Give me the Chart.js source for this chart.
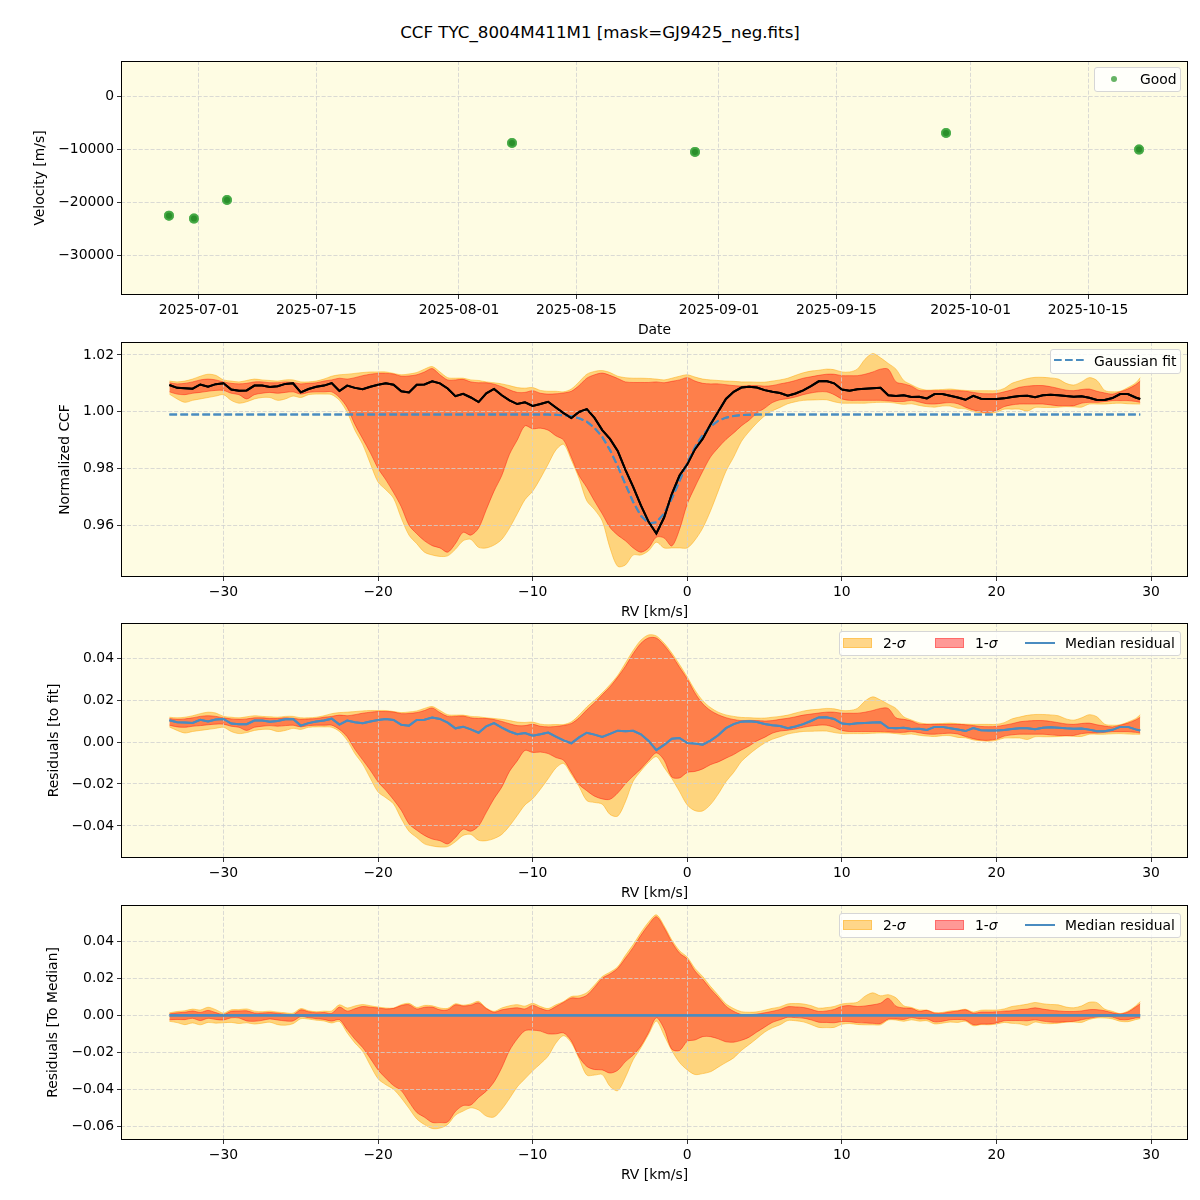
<!DOCTYPE html>
<html>
<head>
<meta charset="utf-8">
<script src="https://cdn.jsdelivr.net/npm/chart.js@4.4.1/dist/chart.umd.min.js"></script>
<style>
body { margin: 0; background: #fff; font-family: "DejaVu Sans", sans-serif; }
#wrap { position: relative; width: 1200px; height: 1200px; overflow: hidden; }
canvas { position: absolute; left: 0; }
.title { position: absolute; left: 0; top: 22px; width: 1200px; text-align: center; font-size: 16.7px; line-height: 20px; color: #000; }
.legend { position: absolute; box-sizing: border-box; background: rgba(255,255,255,0.8); border: 1px solid #d6d6d6; border-radius: 3px; font-size: 13.9px; color: #000; }
.legend > * { position: absolute; }
.legend .txt { top: 0; line-height: 23px; white-space: nowrap; }
.dot { width: 6px; height: 6px; border-radius: 50%; background: rgba(0,128,0,0.6); }
.p2 { width: 29px; height: 10px; top: 6px; box-sizing: border-box; background: rgba(255,165,0,0.45); border: 1px solid rgba(255,165,0,0.35); }
.p1 { width: 29px; height: 10px; top: 6px; box-sizing: border-box; background: rgba(255,0,0,0.4); border: 1px solid rgba(255,0,0,0.3); }
.ln { width: 30px; height: 2px; top: 10px; background: #4a8cc0; }
</style>
</head>
<body>
<div id="wrap">
  <div class="title">CCF TYC_8004M411M1 [mask=GJ9425_neg.fits]</div>
  <canvas id="c1" width="1200" height="285" style="top:55px"></canvas>
  <canvas id="c2" width="1200" height="285" style="top:337px"></canvas>
  <canvas id="c3" width="1200" height="285" style="top:618px"></canvas>
  <canvas id="c4" width="1200" height="285" style="top:900px"></canvas>

  <div class="legend" style="left:1094px;top:67px;width:87px;height:25px">
    <span class="dot" style="left:16px;top:8px"></span>
    <span class="txt" style="left:45px">Good</span>
  </div>
  <div class="legend" style="left:1050px;top:349px;width:131px;height:25px">
    <svg style="left:3px;top:8px" width="30" height="4"><line x1="0" y1="2" x2="30" y2="2" stroke="#4a8cc0" stroke-width="2" stroke-dasharray="7.7 3.3"/></svg>
    <span class="txt" style="left:43px">Gaussian fit</span>
  </div>
  <div class="legend" style="left:839px;top:631px;width:342px;height:25px">
    <span class="p2" style="left:3px"></span><span class="txt" style="left:43px">2-<i>σ</i></span>
    <span class="p1" style="left:95px"></span><span class="txt" style="left:135px">1-<i>σ</i></span>
    <span class="ln" style="left:185px"></span><span class="txt" style="left:225px">Median residual</span>
  </div>
  <div class="legend" style="left:839px;top:913px;width:342px;height:25px">
    <span class="p2" style="left:3px"></span><span class="txt" style="left:43px">2-<i>σ</i></span>
    <span class="p1" style="left:95px"></span><span class="txt" style="left:135px">1-<i>σ</i></span>
    <span class="ln" style="left:185px"></span><span class="txt" style="left:225px">Median residual</span>
  </div>
</div>
<script>
// --- observations (top panel) ---
const obsDates = ['2025-06-27T10:05', '2025-06-30T09:36', '2025-07-04T08:10', '2025-08-07T07:40',
                  '2025-08-29T03:20', '2025-09-28T01:40', '2025-10-21T02:00'];
const obsVel = [-22500, -23060, -19560, -8810, -10500, -6940, -10070];
const dateTicks = ['2025-07-01', '2025-07-15', '2025-08-01', '2025-08-15', '2025-09-01', '2025-09-15', '2025-10-01', '2025-10-15'];
const velTicks = [0, -10000, -20000, -30000];

// --- CCF profile (km/s grid) ---
const rv = [
  -33.5, -33, -32.5, -32, -31.5, -31, -30.5, -30, -29.5, -29,
  -28.5, -28, -27.5, -27, -26.5, -26, -25.5, -25, -24.5, -24,
  -23.5, -23, -22.5, -22, -21.5, -21, -20.5, -20, -19.5, -19,
  -18.5, -18, -17.5, -17, -16.5, -16, -15.5, -15, -14.5, -14,
  -13.5, -13, -12.5, -12, -11.5, -11, -10.5, -10, -9.5, -9,
  -8.5, -8, -7.5, -7, -6.5, -6, -5.5, -5, -4.5, -4,
  -3.5, -3, -2.5, -2, -1.5, -1, -0.5, 0, 0.5, 1,
  1.5, 2, 2.5, 3, 3.5, 4, 4.5, 5, 5.5, 6,
  6.5, 7, 7.5, 8, 8.5, 9, 9.5, 10, 10.5, 11,
  11.5, 12, 12.5, 13, 13.5, 14, 14.5, 15, 15.5, 16,
  16.5, 17, 17.5, 18, 18.5, 19, 19.5, 20, 20.5, 21,
  21.5, 22, 22.5, 23, 23.5, 24, 24.5, 25, 25.5, 26,
  26.5, 27, 27.5, 28, 28.5, 29, 29.3
];
const ccfMedian = [
  1.0094, 1.0084, 1.0083, 1.0081, 1.0096, 1.0088, 1.0097, 1.0100, 1.0078, 1.0074,
  1.0075, 1.0092, 1.0092, 1.0087, 1.0090, 1.0098, 1.0100, 1.0068, 1.0080, 1.0088,
  1.0092, 1.0101, 1.0073, 1.0092, 1.0084, 1.0079, 1.0088, 1.0095, 1.0100, 1.0095,
  1.0072, 1.0068, 1.0095, 1.0096, 1.0107, 1.0100, 1.0082, 1.0055, 1.0063, 1.0050,
  1.0034, 1.0065, 1.0080, 1.0058, 1.0040, 1.0027, 1.0033, 1.0020, 1.0027, 1.0035,
  1.0015, 0.9995, 0.9978, 0.9999, 1.0009, 0.9978, 0.9935, 0.9904, 0.9862, 0.9795,
  0.9735, 0.9670, 0.9612, 0.9571, 0.9627, 0.9710, 0.9775, 0.9815, 0.9868, 0.9905,
  0.9955, 1.0000, 1.0045, 1.0070, 1.0085, 1.0088, 1.0085, 1.0076, 1.0070, 1.0066,
  1.0056, 1.0064, 1.0075, 1.0090, 1.0107, 1.0108, 1.0100, 1.0078, 1.0074, 1.0079,
  1.0081, 1.0083, 1.0084, 1.0058, 1.0055, 1.0058, 1.0052, 1.0053, 1.0047, 1.0062,
  1.0062, 1.0056, 1.0050, 1.0042, 1.0056, 1.0046, 1.0045, 1.0045, 1.0047, 1.0052,
  1.0055, 1.0056, 1.0051, 1.0058, 1.0060, 1.0058, 1.0055, 1.0053, 1.0054, 1.0049,
  1.0041, 1.0041, 1.0048, 1.0062, 1.0062, 1.0050, 1.0045
];
const ccfFit = [
  0.9990, 0.9990, 0.9990, 0.9990, 0.9990, 0.9990, 0.9990, 0.9990, 0.9990, 0.9990,
  0.9990, 0.9990, 0.9990, 0.9990, 0.9990, 0.9990, 0.9990, 0.9990, 0.9990, 0.9990,
  0.9990, 0.9990, 0.9990, 0.9990, 0.9990, 0.9990, 0.9990, 0.9990, 0.9990, 0.9990,
  0.9990, 0.9990, 0.9990, 0.9990, 0.9990, 0.9990, 0.9990, 0.9990, 0.9990, 0.9990,
  0.9990, 0.9990, 0.9990, 0.9990, 0.9990, 0.9990, 0.9990, 0.9990, 0.9990, 0.9990,
  0.9989, 0.9987, 0.9984, 0.9977, 0.9965, 0.9943, 0.9911, 0.9865, 0.9808, 0.9744,
  0.9682, 0.9633, 0.9607, 0.9610, 0.9641, 0.9694, 0.9756, 0.9820, 0.9875, 0.9918,
  0.9948, 0.9968, 0.9979, 0.9985, 0.9988, 0.9989, 0.9990, 0.9990, 0.9990, 0.9990,
  0.9990, 0.9990, 0.9990, 0.9990, 0.9990, 0.9990, 0.9990, 0.9990, 0.9990, 0.9990,
  0.9990, 0.9990, 0.9990, 0.9990, 0.9990, 0.9990, 0.9990, 0.9990, 0.9990, 0.9990,
  0.9990, 0.9990, 0.9990, 0.9990, 0.9990, 0.9990, 0.9990, 0.9990, 0.9990, 0.9990,
  0.9990, 0.9990, 0.9990, 0.9990, 0.9990, 0.9990, 0.9990, 0.9990, 0.9990, 0.9990,
  0.9990, 0.9990, 0.9990, 0.9990, 0.9990, 0.9990, 0.9990
];
const sig1Lo = [
  1.0070, 1.0062, 1.0060, 1.0065, 1.0068, 1.0072, 1.0075, 1.0075, 1.0065, 1.0060,
  1.0045, 1.0060, 1.0065, 1.0068, 1.0065, 1.0068, 1.0070, 1.0062, 1.0068, 1.0070,
  1.0070, 1.0070, 1.0050, 1.0015, 0.9955, 0.9905, 0.9855, 0.9800, 0.9760, 0.9715,
  0.9665, 0.9600, 0.9570, 0.9545, 0.9528, 0.9520, 0.9505, 0.9535, 0.9575, 0.9565,
  0.9590, 0.9655, 0.9720, 0.9775, 0.9850, 0.9900, 0.9950, 0.9940, 0.9942, 0.9935,
  0.9915, 0.9900, 0.9840, 0.9775, 0.9733, 0.9685, 0.9640, 0.9592, 0.9565, 0.9545,
  0.9520, 0.9505, 0.9520, 0.9558, 0.9555, 0.9527, 0.9585, 0.9675, 0.9735, 0.9790,
  0.9840, 0.9873, 0.9902, 0.9925, 0.9950, 0.9970, 0.9995, 1.0012, 1.0032, 1.0042,
  1.0046, 1.0052, 1.0060, 1.0066, 1.0070, 1.0070, 1.0060, 1.0045, 1.0040, 1.0040,
  1.0040, 1.0040, 1.0040, 1.0038, 1.0036, 1.0036, 1.0040, 1.0034, 1.0028, 1.0027,
  1.0030, 1.0032, 1.0028, 1.0016, 1.0006, 0.9999, 0.9998, 1.0004, 1.0018, 1.0024,
  1.0027, 1.0027, 1.0027, 1.0027, 1.0024, 1.0021, 1.0021, 1.0021, 1.0030, 1.0033,
  1.0033, 1.0036, 1.0039, 1.0039, 1.0039, 1.0036, 1.0033
];
const sig1Hi = [
  1.0102, 1.0098, 1.0100, 1.0105, 1.0112, 1.0115, 1.0112, 1.0105, 1.0100, 1.0098,
  1.0100, 1.0105, 1.0105, 1.0102, 1.0102, 1.0105, 1.0103, 1.0098, 1.0100, 1.0102,
  1.0108, 1.0112, 1.0118, 1.0115, 1.0120, 1.0127, 1.0132, 1.0135, 1.0135, 1.0133,
  1.0125, 1.0126, 1.0130, 1.0140, 1.0152, 1.0130, 1.0112, 1.0112, 1.0114, 1.0105,
  1.0102, 1.0102, 1.0097, 1.0088, 1.0077, 1.0068, 1.0068, 1.0074, 1.0065, 1.0062,
  1.0063, 1.0066, 1.0072, 1.0092, 1.0118, 1.0130, 1.0136, 1.0128, 1.0117, 1.0105,
  1.0103, 1.0103, 1.0103, 1.0105, 1.0102, 1.0107, 1.0112, 1.0120, 1.0108, 1.0100,
  1.0098, 1.0098, 1.0095, 1.0092, 1.0090, 1.0092, 1.0092, 1.0090, 1.0092, 1.0098,
  1.0103, 1.0110, 1.0118, 1.0123, 1.0128, 1.0132, 1.0132, 1.0127, 1.0127, 1.0127,
  1.0132, 1.0140, 1.0150, 1.0150, 1.0105, 1.0098, 1.0090, 1.0075, 1.0074, 1.0074,
  1.0074, 1.0074, 1.0074, 1.0072, 1.0068, 1.0064, 1.0063, 1.0064, 1.0070, 1.0077,
  1.0086, 1.0090, 1.0092, 1.0092, 1.0088, 1.0082, 1.0076, 1.0074, 1.0078, 1.0080,
  1.0072, 1.0066, 1.0062, 1.0070, 1.0080, 1.0095, 1.0108
];
const sig2Lo = [
  1.0062, 1.0045, 1.0033, 1.0040, 1.0045, 1.0050, 1.0055, 1.0060, 1.0040, 1.0030,
  1.0035, 1.0045, 1.0050, 1.0050, 1.0040, 1.0045, 1.0055, 1.0050, 1.0060, 1.0062,
  1.0062, 1.0060, 1.0040, 0.9998, 0.9935, 0.9885, 0.9817, 0.9752, 0.9725, 0.9695,
  0.9625, 0.9565, 0.9535, 0.9505, 0.9495, 0.9490, 0.9492, 0.9515, 0.9545, 0.9550,
  0.9522, 0.9520, 0.9530, 0.9550, 0.9590, 0.9640, 0.9690, 0.9720, 0.9765, 0.9815,
  0.9865, 0.9885, 0.9830, 0.9765, 0.9686, 0.9655, 0.9615, 0.9520, 0.9455, 0.9460,
  0.9495, 0.9495, 0.9510, 0.9540, 0.9520, 0.9520, 0.9520, 0.9520, 0.9548, 0.9590,
  0.9650, 0.9720, 0.9790, 0.9840, 0.9895, 0.9930, 0.9960, 0.9985, 1.0003, 1.0015,
  1.0028, 1.0035, 1.0040, 1.0041, 1.0042, 1.0042, 1.0035, 1.0030, 1.0030, 1.0030,
  1.0030, 1.0032, 1.0033, 1.0033, 1.0030, 1.0026, 1.0028, 1.0022, 1.0018, 1.0016,
  1.0020, 1.0020, 1.0012, 1.0010, 1.0000, 0.9996, 0.9994, 0.9998, 1.0009, 1.0009,
  1.0009, 1.0002, 1.0015, 1.0015, 1.0015, 1.0016, 1.0018, 1.0017, 1.0016, 1.0027,
  1.0027, 1.0027, 1.0029, 1.0030, 1.0028, 1.0027, 1.0027
];
const sig2Hi = [
  1.0108, 1.0105, 1.0108, 1.0115, 1.0125, 1.0132, 1.0128, 1.0112, 1.0108, 1.0105,
  1.0110, 1.0115, 1.0112, 1.0110, 1.0108, 1.0112, 1.0112, 1.0105, 1.0105, 1.0108,
  1.0115, 1.0125, 1.0130, 1.0132, 1.0135, 1.0138, 1.0140, 1.0140, 1.0140, 1.0135,
  1.0130, 1.0133, 1.0138, 1.0150, 1.0159, 1.0140, 1.0120, 1.0118, 1.0118, 1.0112,
  1.0110, 1.0105, 1.0102, 1.0098, 1.0092, 1.0085, 1.0083, 1.0085, 1.0075, 1.0072,
  1.0072, 1.0070, 1.0080, 1.0105, 1.0132, 1.0142, 1.0145, 1.0138, 1.0125, 1.0120,
  1.0118, 1.0118, 1.0117, 1.0115, 1.0112, 1.0118, 1.0125, 1.0130, 1.0122, 1.0115,
  1.0112, 1.0110, 1.0108, 1.0107, 1.0105, 1.0105, 1.0104, 1.0104, 1.0108, 1.0112,
  1.0118, 1.0128, 1.0137, 1.0143, 1.0146, 1.0150, 1.0148, 1.0140, 1.0140, 1.0150,
  1.0185, 1.0205, 1.0190, 1.0170, 1.0150, 1.0110, 1.0095, 1.0082, 1.0076, 1.0077,
  1.0078, 1.0080, 1.0077, 1.0075, 1.0074, 1.0074, 1.0074, 1.0074, 1.0082, 1.0100,
  1.0109, 1.0117, 1.0121, 1.0121, 1.0119, 1.0115, 1.0100, 1.0094, 1.0105, 1.0120,
  1.0110, 1.0075, 1.0070, 1.0072, 1.0085, 1.0101, 1.0120
];
const rvTicks = [-30, -20, -10, 0, 10, 20, 30];
const ccfTicks = [0.96, 0.98, 1.00, 1.02];
const fitResTicks = [-0.04, -0.02, 0, 0.02, 0.04];
const medResTicks = [-0.06, -0.04, -0.02, 0, 0.02, 0.04];

// --- setup ---
Chart.defaults.font.family = 'DejaVu Sans';
Chart.defaults.font.size = 13.9;
Chart.defaults.color = '#000';

const ts = s => Date.parse(s + ':00Z');
const minus = s => String(s).replace('-', '\u2212');
const fixed2 = v => minus(Number(v).toFixed(2));

// axes background, lines above the grid, black frame
const panelFrame = {
  id: 'panelFrame',
  beforeDraw(chart) {
    const a = chart.chartArea, ctx = chart.ctx;
    ctx.save();
    ctx.fillStyle = '#fefce3';
    ctx.fillRect(a.left, a.top, a.right - a.left, a.bottom - a.top);
    ctx.restore();
  },
  afterDraw(chart) {
    const a = chart.chartArea, ctx = chart.ctx;
    ctx.save();
    ctx.beginPath();
    ctx.rect(a.left, a.top, a.right - a.left, a.bottom - a.top);
    ctx.clip();
    for (let i = chart.data.datasets.length - 1; i >= 0; i--) {
      if (chart.data.datasets[i].onTop) chart.getDatasetMeta(i).controller.draw();
    }
    ctx.restore();
    ctx.save();
    ctx.strokeStyle = '#000';
    ctx.lineWidth = 1;
    ctx.strokeRect(a.left + 0.5, a.top + 0.5, a.right - a.left - 1, a.bottom - a.top - 1);
    ctx.restore();
  }
};

function axis(o) {
  const bottom = o.pos === 'bottom';
  return {
    type: 'linear',
    position: o.pos,
    min: o.min,
    max: o.max,
    bounds: 'data',
    afterBuildTicks: s => { s.ticks = o.ticks.map(v => ({ value: v })); },
    afterFit: s => {
      if (bottom) { s.height = 45; s.paddingLeft = 0; s.paddingRight = 0; }
      else { s.width = 121; s.paddingTop = 0; s.paddingBottom = 0; }
    },
    grid: { z: 1, color: '#d0d0d0', lineWidth: 0.8, tickColor: '#000', tickWidth: 0.8, tickLength: 4, borderDash: [4.1, 1.8] },
    border: { display: false, dash: [4.1, 1.8] },
    ticks: { padding: 3, maxRotation: 0, autoSkip: false, color: '#000', callback: o.fmt },
    title: {
      display: true, text: o.title, color: '#000',
      padding: bottom ? { top: 0, bottom: 1.7 } : { top: o.pad, bottom: 0 }
    }
  };
}

function makeChart(id, type, datasets, x, y) {
  return new Chart(document.getElementById(id), {
    type: type,
    data: { datasets: datasets },
    options: {
      responsive: false,
      animation: false,
      events: [],
      layout: { padding: { top: 5, right: 12, bottom: 0, left: 0 } },
      plugins: { legend: { display: false }, tooltip: { enabled: false } },
      scales: { x: x, y: y }
    },
    plugins: [panelFrame]
  });
}

const pts = arr => rv.map((x, i) => ({ x: x, y: arr[i] }));
const line = (arr, color, width, extra) => Object.assign({
  data: pts(arr), borderColor: color, borderWidth: width, pointRadius: 0, fill: false, tension: 0
}, extra || {});
const band = (hi, lo, color, edge) => [
  line(hi, edge, 1, { backgroundColor: color, fill: '+1', tension: 0.3 }),
  line(lo, edge, 1, { tension: 0.3 })
];
const RED = 'rgba(255,0,0,0.4)', ORANGE = 'rgba(255,165,0,0.45)';
const BLUE = '#4a8cc0';

const rvAxis = () => axis({ pos: 'bottom', min: -36.63, max: 32.39, ticks: rvTicks, fmt: v => minus(v), title: 'RV [km/s]' });

// panel 1: velocities by date
makeChart('c1', 'scatter', [{
  data: obsDates.map((d, i) => ({ x: ts(d), y: obsVel[i] })),
  pointRadius: 4, pointBorderWidth: 2, onTop: true,
  pointBackgroundColor: '#2a8f2a', pointBorderColor: 'rgba(70,170,70,0.85)'
}],
  axis({ pos: 'bottom', min: ts('2025-06-21T16:48'), max: ts('2025-10-26T22:05'),
         ticks: dateTicks.map(d => ts(d + 'T00:00')), fmt: v => new Date(v).toISOString().slice(0, 10), title: 'Date' }),
  axis({ pos: 'left', min: -37446, max: 6619, ticks: velTicks, fmt: v => minus(v), title: 'Velocity [m/s]', pad: 32 })
);

// panel 2: normalized CCF
makeChart('c2', 'line', [
  line(ccfMedian, '#000', 2, { onTop: true }),
  line(ccfFit, BLUE, 2, { borderDash: [7.7, 3.3], onTop: true }),
  ...band(sig1Hi, sig1Lo, RED, RED),
  ...band(sig2Hi, sig2Lo, ORANGE, ORANGE)
], rvAxis(),
  axis({ pos: 'left', min: 0.94175, max: 1.02456, ticks: ccfTicks, fmt: fixed2, title: 'Normalized CCF', pad: 57.5 })
);

// panel 3: residuals to the fit
const subFit = arr => arr.map((v, i) => v - ccfFit[i]);
makeChart('c3', 'line', [
  line(subFit(ccfMedian), BLUE, 2, { onTop: true }),
  ...band(subFit(sig1Hi), subFit(sig1Lo), RED, RED),
  ...band(subFit(sig2Hi), subFit(sig2Lo), ORANGE, ORANGE)
], rvAxis(),
  axis({ pos: 'left', min: -0.05524, max: 0.05667, ticks: fitResTicks, fmt: fixed2, title: 'Residuals [to fit]', pad: 46.4 })
);

// panel 4: residuals to the median
const subMed = arr => arr.map((v, i) => v - ccfMedian[i]);
makeChart('c4', 'line', [
  line(subMed(ccfMedian), BLUE, 2.2, { onTop: true }),
  ...band(subMed(sig1Hi), subMed(sig1Lo), RED, RED),
  ...band(subMed(sig2Hi), subMed(sig2Lo), ORANGE, ORANGE)
], rvAxis(),
  axis({ pos: 'left', min: -0.06743, max: 0.05973, ticks: medResTicks, fmt: fixed2, title: 'Residuals [To Median]', pad: 45.3 })
);
</script>
</body>
</html>
